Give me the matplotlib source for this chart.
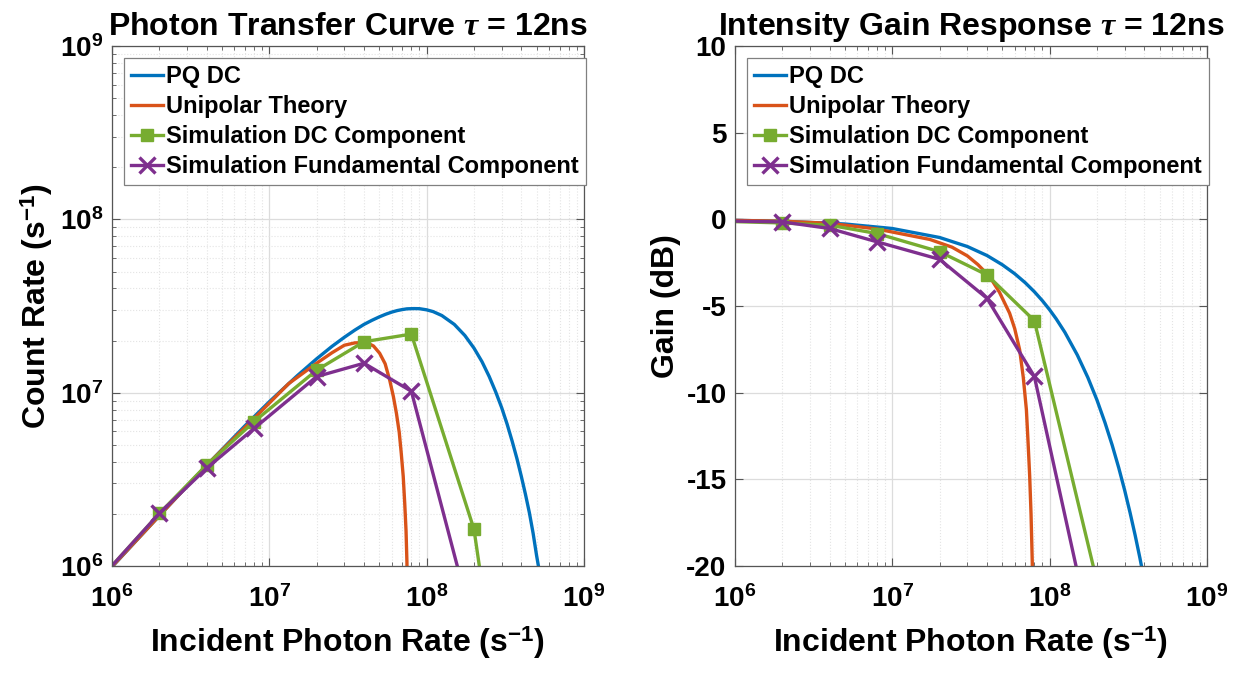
import numpy as np
import matplotlib
matplotlib.use('Agg')
import matplotlib.pyplot as plt

plt.rcParams['font.family'] = ['Liberation Sans', 'DejaVu Sans']
plt.rcParams['font.weight'] = 'bold'
plt.rcParams['axes.labelweight'] = 'bold'
plt.rcParams['axes.titleweight'] = 'bold'
plt.rcParams['axes.unicode_minus'] = False
plt.rcParams['mathtext.fontset'] = 'custom'
plt.rcParams['mathtext.rm'] = 'Liberation Sans:bold'
plt.rcParams['mathtext.bf'] = 'Liberation Sans:bold'
plt.rcParams['mathtext.it'] = 'Liberation Serif:italic'

# MATLAB default colours
c_blue = '#0072BD'
c_orange = '#D95319'
c_green = '#77AC30'
c_purple = '#7E2F8E'

# ---- Photon transfer curve (count rate) ----
pq_x = [1e6, 2e6, 4e6, 7e6, 1e7, 1.5e7, 2e7, 2.5e7, 3e7, 3.5e7, 4e7, 4.5e7, 5e7, 5.5e7,
        6e7, 6.5e7, 7e7, 7.5e7, 8.3e7, 9e7, 1e8, 1.1e8, 1.25e8, 1.5e8, 1.75e8, 2e8,
        2.25e8, 2.5e8, 2.75e8, 3e8, 3.25e8, 3.5e8, 3.75e8, 4e8, 4.25e8, 4.5e8, 4.75e8,
        5e8, 5.5e8]
pq_count = [9.88e5, 1.95e6, 3.81e6, 6.44e6, 8.87e6, 1.25e7, 1.57e7, 1.85e7, 2.09e7, 2.30e7,
            2.48e7, 2.62e7, 2.74e7, 2.84e7, 2.92e7, 2.98e7, 3.02e7, 3.05e7, 3.06e7, 3.056e7,
            3.01e7, 2.94e7, 2.79e7, 2.48e7, 2.14e7, 1.81e7, 1.51e7, 1.24e7, 1.01e7, 8.2e6,
            6.58e6, 5.24e6, 4.17e6, 3.29e6, 2.59e6, 2.03e6, 1.55e6, 1.15e6, 7.0e5]

uni_x = [1e6, 2e6, 4e6, 8e6, 1.33e7, 2e7, 2.5e7, 3e7, 3.5e7, 4.15e7, 4.6e7, 5.03e7, 5.45e7,
         5.83e7, 6.15e7, 6.43e7, 6.7e7, 6.9e7, 7.1e7, 7.26e7, 7.4e7, 7.5e7, 7.55e7]
uni_count = [9.9e5, 1.95e6, 3.82e6, 7.1e6, 1.13e7, 1.48e7, 1.7e7, 1.88e7, 1.94e7, 1.95e7,
             1.86e7, 1.69e7, 1.47e7, 1.18e7, 9.5e6, 7.6e6, 5.9e6, 4.47e6, 3.3e6, 2.3e6,
             1.6e6, 1.04e6, 5e5]

sim_x = [5e5, 2e6, 4e6, 8e6, 2e7, 4e7, 8e7, 2e8, 4e8]
sim_dc_count = [5e5, 2.01e6, 3.83e6, 6.81e6, 1.35e7, 1.97e7, 2.18e7, 1.63e6, 2.2e4]
sim_fund_count = [5e5, 2.01e6, 3.67e6, 6.22e6, 1.24e7, 1.48e7, 1.02e7, 4.3e5, 1e3]

# ---- Intensity gain response (dB) ----
pq_gx = [1e6, 2e6, 5e6, 1e7, 2e7, 3e7, 4e7, 5e7, 6e7, 7e7, 8e7, 9e7, 1e8, 1.1e8, 1.25e8,
         1.5e8, 1.75e8, 2e8, 2.25e8, 2.5e8, 2.75e8, 3e8, 3.25e8, 3.5e8, 3.75e8, 4e8]
pq_gain = [-0.05, -0.10, -0.26, -0.52, -1.04, -1.56, -2.08, -2.61, -3.13, -3.65, -4.17,
           -4.69, -5.21, -5.73, -6.51, -7.82, -9.12, -10.42, -11.73, -13.03, -14.33,
           -15.63, -16.94, -18.24, -19.54, -20.85]

uni_gx = [1e6, 2e6, 4e6, 8e6, 1.73e7, 2.4e7, 3e7, 3.5e7, 4.16e7, 4.8e7, 5.57e7, 6e7,
          6.45e7, 6.8e7, 7.12e7, 7.3e7, 7.47e7, 7.62e7, 7.76e7, 7.8e7]
uni_gain = [-0.05, -0.1, -0.22, -0.55, -1.15, -1.6, -2.1, -2.6, -3.3, -4.2, -5.41, -6.3,
            -7.52, -9.1, -10.98, -12.9, -14.8, -17.0, -19.8, -21]

sim_gx = [5e5, 2e6, 4e6, 8e6, 2e7, 4e7, 8e7, 2e8]
sim_dc_gain = [-0.05, -0.2, -0.33, -0.81, -1.86, -3.2, -5.84, -20.9]
sim_fund_gain = [-0.05, -0.14, -0.52, -1.29, -2.3, -4.55, -9.06, -25.5]

labels = ['PQ DC', 'Unipolar Theory', 'Simulation DC Component',
          'Simulation Fundamental Component']

fig = plt.figure(figsize=(12.44, 6.75), dpi=100)
ax1 = fig.add_axes([0.090, 0.1615, 0.3794, 0.770])
ax2 = fig.add_axes([0.5908, 0.1615, 0.3794, 0.770])

lw = 2.4


def style(ax):
    ax.set_xscale('log')
    ax.set_xlim(1e6, 1e9)
    ax.grid(True, which='major', color='#dcdcdc', linewidth=0.9)
    ax.grid(True, which='minor', color='#e4e4e4', linestyle=':', linewidth=0.8)
    ax.tick_params(which='both', direction='in', top=True, right=True,
                   labelsize=20, color='#555555')
    ax.tick_params(which='major', length=6)
    ax.tick_params(axis='x', which='major', pad=14)
    ax.tick_params(axis='y', which='major', pad=6)
    ax.tick_params(which='minor', length=3)
    for s in ax.spines.values():
        s.set_color('#555555')
        s.set_linewidth(0.9)
    ax.set_axisbelow(True)
    ax.set_xlabel('Incident Photon Rate (s$^{-1}$)', fontsize=23, labelpad=8)
    leg = ax.legend(loc='upper left', fontsize=17, handlelength=1.35, handletextpad=0.15,
                    borderpad=0.3, labelspacing=0.3, fancybox=False,
                    borderaxespad=0.5, framealpha=1, edgecolor='#808080')
    leg.get_frame().set_linewidth(0.9)


ax1.plot(pq_x, pq_count, color=c_blue, lw=lw, label=labels[0])
ax1.plot(uni_x, uni_count, color=c_orange, lw=lw, label=labels[1])
ax1.plot(sim_x, sim_dc_count, color=c_green, lw=lw, marker='s', ms=8, label=labels[2])
ax1.plot(sim_x, sim_fund_count, color=c_purple, lw=lw, marker='x', ms=12, mew=2.4,
         label=labels[3])
ax1.set_yscale('log')
ax1.set_ylim(1e6, 1e9)
ax1.set_ylabel('Count Rate (s$^{-1}$)', fontsize=23, labelpad=4)
ax1.set_title('Photon Transfer Curve $\\tau$ = 12ns', fontsize=23, pad=8)
style(ax1)

ax2.plot(pq_gx, pq_gain, color=c_blue, lw=lw, label=labels[0])
ax2.plot(uni_gx, uni_gain, color=c_orange, lw=lw, label=labels[1])
ax2.plot(sim_gx, sim_dc_gain, color=c_green, lw=lw, marker='s', ms=8, label=labels[2])
ax2.plot(sim_gx, sim_fund_gain, color=c_purple, lw=lw, marker='x', ms=12, mew=2.4,
         label=labels[3])
ax2.set_ylim(-20, 10)
ax2.set_yticks(np.arange(-20, 11, 5))
ax2.set_ylabel('Gain (dB)', fontsize=23, labelpad=4)
ax2.set_title('Intensity Gain Response $\\tau$ = 12ns', fontsize=23, pad=8)
style(ax2)

fig.savefig('out.png', dpi=100, facecolor='white')
